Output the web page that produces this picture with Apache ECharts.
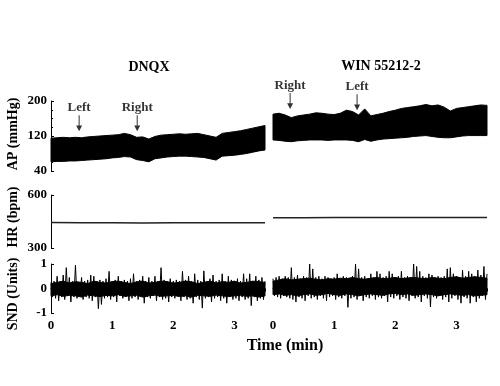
<!DOCTYPE html>
<html><head><meta charset="utf-8">
<script src="https://cdn.jsdelivr.net/npm/echarts@6/dist/echarts.min.js"></script>
<style>html,body{margin:0;padding:0;background:#fff}#c{width:500px;height:386px}</style>
</head><body><div id="c"></div>
<script>
// ---- data ----
const apTimes = [0,0.1,0.2,0.3,0.4,0.5,0.6,0.7,0.8,0.9,1.0,1.1,1.2,1.3,1.4,1.5,1.6,1.7,1.8,1.9,2.0,2.1,2.2,2.3,2.4,2.5,2.6,2.7,2.8,2.9,3.0,3.1,3.2,3.3,3.4,3.5];
const apLeftTop = [115,116,117,116,117,116,118,119,120,121,122,123,126,123,117,118,113,119,122,123,124,125,124,125,126,123,120,117,126,128,130,132,135,138,141,144];
const apLeftBottom = [61,62,62,63,63,64,65,66,67,68,70,71,73,72,66,64,61,68,70,72,73,74,74,73,72,71,68,65,74,75,76,78,80,83,86,88];
const apRightTop = [170,172,168,162,166,168,170,173,172,170,169,172,179,176,168,182,166,169,172,176,179,183,185,187,189,192,189,191,186,177,183,185,187,189,191,190];
const apRightBottom = [111,110,108,107,109,110,111,111,111,110,111,111,111,110,107,112,108,111,113,114,115,116,117,119,120,121,119,117,116,116,118,120,121,121,121,121];

const hrTimes = [0,0.5,1,1.5,2,2.5,3,3.5];
const hrLeft = [444,443,443,442,443,443,443,443];
const hrRight = [471,471,472,472,472,472,472,473];

// SND dense core envelope (sampled on apTimes)
const sndLeftCoreTop = [0.2,0.25,0.3,0.22,0.28,0.25,0.2,0.3,0.25,0.22,0.28,0.3,0.25,0.2,0.27,0.3,0.22,0.25,0.3,0.28,0.22,0.25,0.3,0.27,0.2,0.25,0.3,0.22,0.28,0.25,0.3,0.22,0.25,0.3,0.28,0.25];
const sndLeftCoreBottom = [-0.3,-0.25,-0.32,-0.28,-0.3,-0.35,-0.27,-0.3,-0.33,-0.28,-0.3,-0.25,-0.32,-0.3,-0.28,-0.35,-0.3,-0.27,-0.32,-0.3,-0.28,-0.33,-0.3,-0.35,-0.28,-0.3,-0.32,-0.27,-0.3,-0.33,-0.3,-0.28,-0.32,-0.3,-0.35,-0.3];
const sndRightCoreTop = [0.3,0.35,0.4,0.35,0.38,0.4,0.42,0.38,0.35,0.4,0.38,0.42,0.4,0.45,0.4,0.38,0.42,0.45,0.4,0.42,0.45,0.4,0.43,0.45,0.42,0.4,0.45,0.42,0.4,0.45,0.48,0.42,0.45,0.48,0.45,0.42];
const sndRightCoreBottom = [-0.25,-0.22,-0.28,-0.25,-0.3,-0.25,-0.22,-0.28,-0.25,-0.2,-0.25,-0.28,-0.22,-0.25,-0.3,-0.25,-0.22,-0.25,-0.28,-0.22,-0.2,-0.25,-0.22,-0.28,-0.25,-0.22,-0.25,-0.3,-0.25,-0.22,-0.25,-0.28,-0.25,-0.3,-0.28,-0.25];

// SND trace: peaks sampled at 0,0.05,...,3.5 and troughs at 0.025,0.075,...,3.475
const sndStep = 0.05;
const sndLeftHi = [0.25,0.3,0.5,0.3,0.55,0.85,0.45,0.3,0.95,0.25,0.45,0.3,0.35,0.55,0.5,0.3,0.35,0.3,0.4,0.7,0.3,0.35,0.5,0.3,0.35,0.3,0.4,0.6,0.3,0.35,0.5,0.3,0.45,0.3,0.5,0.3,0.85,0.35,0.3,0.4,0.3,0.35,0.3,0.7,0.35,0.5,0.3,0.6,0.35,0.3,0.72,0.3,0.4,0.55,0.3,0.35,0.6,0.3,0.5,0.35,0.3,0.4,0.3,0.6,0.4,0.6,0.3,0.5,0.35,0.45,0.3];
const sndLeftLo = [-0.35,-0.4,-0.5,-0.35,-0.45,-0.3,-0.55,-0.35,-0.4,-0.3,-0.45,-0.35,-0.4,-0.5,-0.35,-0.82,-0.65,-0.4,-0.35,-0.45,-0.35,-0.55,-0.3,-0.4,-0.35,-0.5,-0.4,-0.35,-0.45,-0.3,-0.6,-0.35,-0.4,-0.3,-0.5,-0.35,-0.45,-0.4,-0.55,-0.35,-0.4,-0.3,-0.5,-0.35,-0.45,-0.4,-0.6,-0.35,-0.45,-0.8,-0.4,-0.35,-0.55,-0.4,-0.35,-0.5,-0.4,-0.6,-0.35,-0.45,-0.4,-0.5,-0.35,-0.45,-0.4,-0.7,-0.35,-0.5,-0.4,-0.45];
const sndRightHi = [0.4,0.45,0.5,0.4,0.5,0.45,0.85,0.45,0.55,0.4,0.5,0.45,1.0,0.8,0.45,0.5,0.4,0.5,0.45,0.4,0.45,0.6,0.4,0.5,0.45,0.4,0.5,1.0,0.8,0.45,0.5,0.4,0.6,0.45,0.7,0.6,0.45,0.5,0.7,0.6,0.45,0.5,0.7,0.45,0.5,0.45,1.0,0.9,0.7,0.5,0.45,0.6,0.55,0.45,0.5,0.45,0.5,0.8,0.85,0.6,0.5,0.45,0.75,0.5,0.7,0.6,0.5,0.75,0.55,0.9,0.6];
const sndRightLo = [-0.3,-0.35,-0.4,-0.3,-0.35,-0.4,-0.45,-0.55,-0.35,-0.4,-0.5,-0.3,-0.4,-0.35,-0.45,-0.3,-0.4,-0.5,-0.35,-0.3,-0.45,-0.35,-0.4,-0.3,-0.77,-0.4,-0.35,-0.45,-0.3,-0.5,-0.35,-0.4,-0.3,-0.45,-0.35,-0.4,-0.3,-0.55,-0.35,-0.4,-0.3,-0.45,-0.35,-0.4,-0.5,-0.3,-0.4,-0.35,-0.55,-0.3,-0.4,-0.75,-0.35,-0.4,-0.3,-0.45,-0.35,-0.55,-0.4,-0.3,-0.45,-0.6,-0.35,-0.4,-0.6,-0.35,-0.55,-0.4,-0.3,-0.45];

const arrowLeftT = [0.46, 1.41];
const arrowLeftTip = [131, 131];
const arrowLeftLabels = ['Left', 'Right'];
const arrowRightT = [0.28, 1.375];
const arrowRightTip = [182, 179];
const arrowRightLabels = ['Right', 'Left'];

const xTicks = [0, 1, 2, 3];
const panelTitles = ['DNQX', 'WIN 55212-2'];

// ---- chart ----
const FONT = '"Liberation Serif","DejaVu Serif",serif';
const chart = echarts.init(document.getElementById('c'), null, {renderer: 'canvas'});

const gridRows = [{top: 101, height: 70}, {top: 195, height: 53}, {top: 264, height: 49}];
const gridCols = [{left: 51, width: 214}, {left: 273, width: 214}];
const yRanges = [{min: 40, max: 200, interval: 80, minor: 4}, {min: 300, max: 600, interval: 300, minor: 0}, {min: -1, max: 1, interval: 1, minor: 0}];

const grids = [], xAxes = [], yAxes = [];
gridCols.forEach((c, ci) => {
  gridRows.forEach((r, ri) => {
    const gi = grids.length;
    grids.push({left: c.left, width: c.width, top: r.top, height: r.height});
    const isBottom = ri === 2;
    xAxes.push({
      type: 'value', gridIndex: gi, min: 0, max: 3.5, interval: 1, show: isBottom,
      axisLine: {show: true, lineStyle: {color: '#000', width: 1}},
      axisTick: {show: true, length: 3, lineStyle: {color: '#000'}},
      minorTick: {show: true, splitNumber: 10, length: 2, lineStyle: {color: '#000'}},
      splitLine: {show: false},
      axisLabel: {show: true, showMaxLabel: false, color: '#000', fontFamily: FONT, fontWeight: 'bold', fontSize: 13, margin: 6,
        formatter: v => xTicks.includes(v) ? String(v) : ''}
    });
    const yr = yRanges[ri];
    yAxes.push({
      type: 'value', gridIndex: gi, min: yr.min, max: yr.max, interval: yr.interval, show: ci === 0,
      axisLine: {show: true, lineStyle: {color: '#000', width: 1}},
      axisTick: {show: true, inside: true, length: 3, lineStyle: {color: '#000'}},
      minorTick: {show: yr.minor > 0, splitNumber: yr.minor || 5, length: 2, lineStyle: {color: '#000'}},
      splitLine: {show: false},
      axisLabel: {color: '#000', fontFamily: FONT, fontWeight: 'bold', fontSize: 13, margin: 4}
    });
  });
});

function bandSeries(gi, times, top, bottom) {
  return {
    type: 'custom', xAxisIndex: gi, yAxisIndex: gi, silent: true, clip: false, z: 2,
    data: times.map((t, k) => [t, top[k], bottom[k]]),
    encode: {x: 0, y: [1, 2]},
    renderItem: (params, api) => {
      if (params.dataIndex !== 0) return null;
      const pts = [];
      for (let k = 0; k < times.length; k++) pts.push(api.coord([times[k], top[k]]));
      for (let k = times.length - 1; k >= 0; k--) pts.push(api.coord([times[k], bottom[k]]));
      return {type: 'polygon', shape: {points: pts}, style: {fill: '#000', stroke: '#000', lineWidth: 1}};
    }
  };
}
function hrSeries(gi, vals) {
  return {type: 'line', xAxisIndex: gi, yAxisIndex: gi, symbol: 'none', silent: true,
    data: hrTimes.map((t, k) => [t, vals[k]]), lineStyle: {color: '#222', width: 1.5}};
}
function sndSeries(gi, hi, lo) {
  const d = [];
  for (let k = 0; k < hi.length; k++) {
    d.push([k * sndStep, hi[k]]);
    if (k < lo.length) d.push([k * sndStep + sndStep / 2, lo[k]]);
  }
  return {type: 'line', xAxisIndex: gi, yAxisIndex: gi, symbol: 'none', silent: true, z: 3,
    data: d, lineStyle: {color: '#000', width: 1}};
}
function arrowSeries(gi, ts, tips, labels) {
  return {type: 'scatter', xAxisIndex: gi, yAxisIndex: gi, clip: false, silent: true, z: 5,
    symbol: 'path://M2.5,0 L3.5,0 L3.5,11 L6,11 L3,17 L0,11 L2.5,11 Z',
    symbolSize: [6, 16], symbolOffset: [0, -8],
    itemStyle: {color: '#000'},
    label: {show: true, position: 'top', distance: 1, color: '#000', fontFamily: FONT, fontWeight: 'bold', fontSize: 13},
    data: ts.map((t, k) => ({value: [t, tips[k]], label: {formatter: labels[k]}}))};
}

const series = [
  bandSeries(0, apTimes, apLeftTop, apLeftBottom),
  hrSeries(1, hrLeft),
  bandSeries(2, apTimes, sndLeftCoreTop, sndLeftCoreBottom),
  sndSeries(2, sndLeftHi, sndLeftLo),
  bandSeries(3, apTimes, apRightTop, apRightBottom),
  hrSeries(4, hrRight),
  bandSeries(5, apTimes, sndRightCoreTop, sndRightCoreBottom),
  sndSeries(5, sndRightHi, sndRightLo),
  arrowSeries(0, arrowLeftT, arrowLeftTip, arrowLeftLabels),
  arrowSeries(3, arrowRightT, arrowRightTip, arrowRightLabels)
];

const txt = {fontFamily: FONT, fontWeight: 'bold', fill: '#000'};
chart.setOption({
  animation: false,
  backgroundColor: '#fff',
  title: [
    {text: panelTitles[0], left: 144, top: 55, textAlign: 'center', textStyle: {fontFamily: FONT, fontWeight: 'bold', fontSize: 14, color: '#000'}},
    {text: panelTitles[1], left: 376, top: 54, textAlign: 'center', textStyle: {fontFamily: FONT, fontWeight: 'bold', fontSize: 14, color: '#000'}}
  ],
  grid: grids, xAxis: xAxes, yAxis: yAxes, series: series,
  graphic: [
    {type: 'text', x: 13, y: 134, rotation: Math.PI / 2, style: Object.assign({text: 'AP (mmHg)', fontSize: 14, textAlign: 'center', textVerticalAlign: 'middle'}, txt)},
    {type: 'text', x: 13, y: 217, rotation: Math.PI / 2, style: Object.assign({text: 'HR (bpm)', fontSize: 14, textAlign: 'center', textVerticalAlign: 'middle'}, txt)},
    {type: 'text', x: 13, y: 294, rotation: Math.PI / 2, style: Object.assign({text: 'SND (Units)', fontSize: 14, textAlign: 'center', textVerticalAlign: 'middle'}, txt)},
    {type: 'text', x: 285, y: 346, style: Object.assign({text: 'Time (min)', fontSize: 16, textAlign: 'center', textVerticalAlign: 'middle'}, txt)}
  ]
});
</script></body></html>
